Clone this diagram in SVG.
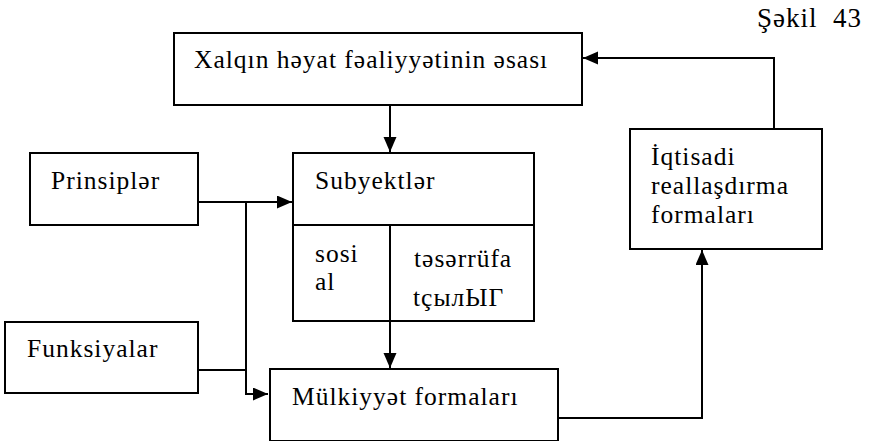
<svg xmlns="http://www.w3.org/2000/svg" width="881" height="441" viewBox="0 0 881 441">
<style>
.box{fill:#fff;stroke:#000;stroke-width:2}
.c{fill:none;stroke:#000;stroke-width:2}
text{font-family:'Liberation Serif','Times New Roman',serif;font-size:25.5px;letter-spacing:1px;fill:#000}
</style>
<defs>
<marker id="ah" markerUnits="userSpaceOnUse" markerWidth="16" markerHeight="14" refX="15" refY="6.5" orient="auto">
<path d="M0,0 L15,6.5 L0,13 z" fill="#000"/>
</marker>
</defs>
<rect width="881" height="441" fill="#fff"/>
<text x="757" y="27" xml:space="preserve" style="font-size:27px">Şəkil  43</text>
<g id="connectors">
<path class="c" d="M390,105 V152" marker-end="url(#ah)"/>
<path class="c" d="M198,202 H292" marker-end="url(#ah)"/>
<path class="c" d="M246,202 V394 H268" marker-end="url(#ah)"/>
<path class="c" d="M198,370 H246"/>
<path class="c" d="M390,321 V368" marker-end="url(#ah)"/>
<path class="c" d="M558,418 H702 V250" marker-end="url(#ah)"/>
<path class="c" d="M774,129 V58 H583" marker-end="url(#ah)"/>
</g>
<g id="node-xalq">
<rect class="box" x="174" y="33" width="408" height="72"/>
<text x="194" y="68">Xalqın həyat fəaliyyətinin əsası</text>
</g>
<g id="node-prinsipler">
<rect class="box" x="30" y="153" width="168" height="72"/>
<text x="51" y="189">Prinsiplər</text>
</g>
<g id="node-subyektler">
<rect class="box" x="293" y="153" width="241" height="168"/>
<line class="c" x1="293" y1="225" x2="534" y2="225"/>
<line class="c" x1="390" y1="225" x2="390" y2="321"/>
<text x="315" y="189">Subyektlər</text>
<text x="315" y="262">sosi</text>
<text x="315" y="290">al</text>
<text x="414" y="267">təsərrüfa</text>
<text x="413" y="306">tçылЫГ</text>
</g>
<g id="node-funksiyalar">
<rect class="box" x="5" y="322" width="193" height="71"/>
<text x="27" y="357">Funksiyalar</text>
</g>
<g id="node-mulkiyyet">
<rect class="box" x="270" y="369" width="288" height="72"/>
<text x="292" y="405">Mülkiyyət formaları</text>
</g>
<g id="node-iqtisadi">
<rect class="box" x="630" y="129" width="192" height="120"/>
<text x="651" y="165">İqtisadi</text>
<text x="651" y="194">reallaşdırma</text>
<text x="651" y="223">formaları</text>
</g>
</svg>
